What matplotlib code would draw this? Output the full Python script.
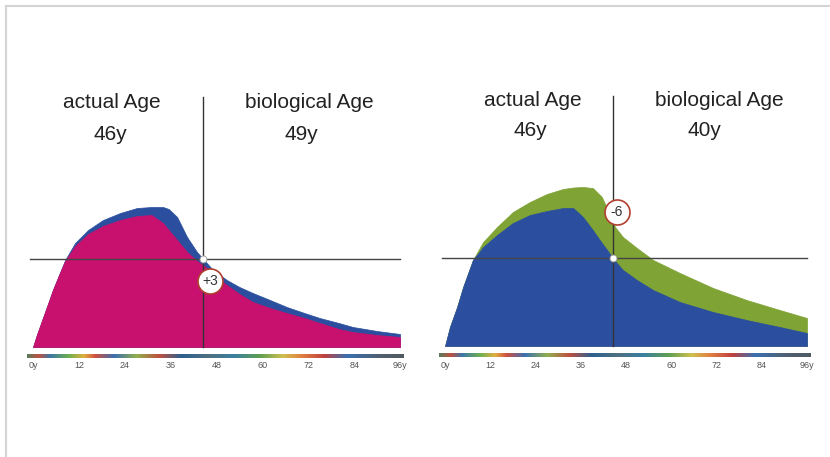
import numpy as np
import matplotlib.pyplot as plt
from matplotlib.colors import LinearSegmentedColormap
from matplotlib.lines import Line2D

plt.rcParams['font.family'] = ['Liberation Sans', 'DejaVu Sans']

# возраст по оси x (годы) и высота кривых (условные единицы)
ages_left = [0, 1, 2.4, 4, 5.2, 6.8, 8.4, 11, 14.4, 18.3, 22.8, 27.2, 31, 34, 35.5, 37.7,
             40.3, 42.9, 44.5, 47.1, 50.7, 54, 57.5, 62, 66.4, 71, 75, 80, 83.7, 90, 96]
bio_left = [0, 12, 27, 44, 57, 72, 87, 104, 117, 127, 134, 139, 140, 140, 138, 130,
            110, 95, 88, 77, 67, 60, 54, 47, 40, 34, 29, 24, 20, 16, 13]
actual_left = [0, 12, 27, 44, 57, 72, 86, 101, 113, 121, 127, 131, 132, 124, 117, 107,
               95, 86, 82, 73, 62, 53, 45, 39, 34, 29, 24, 18, 15, 12, 10]

ages_right = [0, 1.3, 3.2, 4.8, 7.4, 10.1, 13.8, 18, 22.5, 27, 31.3, 34, 36.6, 39.2, 41.6,
              43.2, 45.1, 47.2, 50.9, 55.2, 62.3, 71.1, 80, 88.8, 96]
bio_right = [0, 19, 39, 59, 86, 104, 119, 134, 144, 152, 157, 158.5, 159, 158, 149,
             136, 119, 109, 98, 86, 73, 58, 46, 36, 28]
actual_right = [0, 19, 39, 59, 86, 99, 111, 123, 131, 135, 138, 138, 129, 116, 103,
                95, 85, 76, 66, 56, 44, 34, 26, 19, 13]

tick_ages = [0, 12, 24, 36, 48, 60, 72, 84, 96]
tick_labels = ['0y', '12', '24', '36', '48', '60', '72', '84', '96y']

actual_age = [46, 46]
bio_age = [49, 40]
diff_labels = ['+3', '-6']
cross_age = 44.5      # где стоит перекрестие
cross_level = 88
badge_pos = [(46.3, 66), (45.6, 134)]

W, H = 830, 457
fig = plt.figure(figsize=(W / 100, H / 100), dpi=100)
fig.patch.set_facecolor('white')

# радужная полоска под осью
rainbow = LinearSegmentedColormap.from_list('rb', [
    (0.00, '#5a7a5a'), (0.03, '#c05040'), (0.06, '#3a78a8'), (0.11, '#70b050'),
    (0.15, '#e0b040'), (0.18, '#d05040'), (0.23, '#3a70b0'), (0.29, '#90b050'),
    (0.35, '#c05040'), (0.41, '#2a6090'), (0.48, '#507080'), (0.55, '#3a80a0'),
    (0.62, '#60a050'), (0.68, '#d0c050'), (0.73, '#e08040'), (0.79, '#c04040'),
    (0.85, '#3a70b0'), (0.94, '#506070'), (1.00, '#505a60')])


def panel(x0, x1, px0, px96, base, ages, outer, inner, c_outer, c_inner, i):
    # оси в пикселях картинки
    y0, y1 = 80, 380
    ax = fig.add_axes([x0 / W, 1 - y1 / H, (x1 - x0) / W, (y1 - y0) / H])
    s = (px96 - px0) / 96
    ax.set_xlim(-(px0 - x0) / s, 96 + (x1 - px96) / s)
    ax.set_ylim(-(y1 - base), base - y0)
    ax.axis('off')

    ax.fill_between(ages, 0, outer, color=c_outer, lw=0.5, edgecolor=c_outer)
    ax.fill_between(ages, 0, inner, color=c_inner, lw=0.5, edgecolor=c_inner)

    ax.plot([-0.8, 96], [cross_level, cross_level], color='#444444', lw=1)
    ax.plot([cross_age, cross_age], [0, 250], color='#333333', lw=1)
    ax.plot(cross_age, cross_level, 'o', ms=5, mfc='white', mec='#999999', mew=0.6)

    bx, by = badge_pos[i]
    ax.plot(bx, by, 'o', ms=18, mfc='white', mec='#b04030', mew=1.2)
    ax.text(bx, by, diff_labels[i], ha='center', va='center', fontsize=10, color='#333333')

    ax.imshow(np.linspace(0, 1, 256)[None, :], cmap=rainbow, aspect='auto',
              extent=(-1.6, 96.8, -11, -7))
    for a, lab in zip(tick_ages, tick_labels):
        ax.text(a, -19, lab, ha='center', va='center', fontsize=6.5, color='#555555')
    return ax


panel(20, 415, 33, 400, 347, ages_left, bio_left, actual_left, '#2b4f9e', '#c8106e', 0)
panel(430, 820, 445, 807, 346, ages_right, bio_right, actual_right, '#7fa334', '#2b4f9e', 1)

# подписи
kw = dict(ha='center', va='center', fontsize=15, color='#222222')
fig.text(112 / W, 1 - 102 / H, 'actual Age', **kw)
fig.text(110 / W, 1 - 134 / H, f'{actual_age[0]}y', **kw)
fig.text(309 / W, 1 - 102 / H, 'biological Age', **kw)
fig.text(301 / W, 1 - 134 / H, f'{bio_age[0]}y', **kw)
fig.text(533 / W, 1 - 100 / H, 'actual Age', **kw)
fig.text(530 / W, 1 - 131 / H, f'{actual_age[1]}y', **kw)
fig.text(719 / W, 1 - 101 / H, 'biological Age', **kw)
fig.text(704 / W, 1 - 131 / H, f'{bio_age[1]}y', **kw)

# рамка слева и сверху
fig.add_artist(Line2D([6 / W, 1], [1 - 6 / H, 1 - 6 / H], color='#d4d4d4', lw=1.5))
fig.add_artist(Line2D([6 / W, 6 / W], [0, 1 - 6 / H], color='#d4d4d4', lw=1.5))

fig.savefig('out.png', dpi=100, facecolor='white')
